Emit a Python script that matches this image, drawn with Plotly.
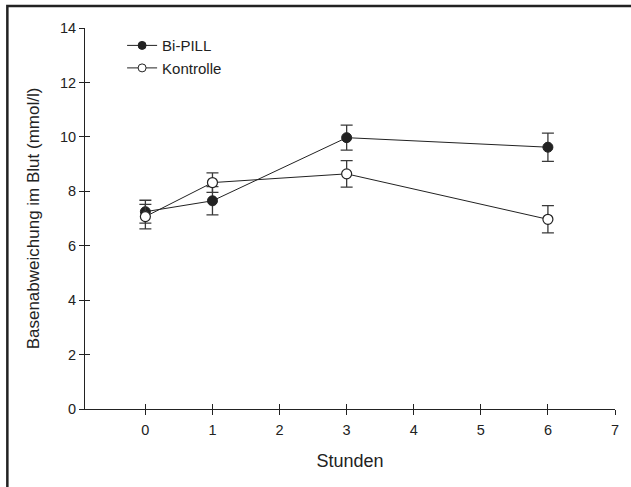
import plotly.graph_objects as go

hours = [0, 1, 3, 6]
bipill = [7.25, 7.65, 9.97, 9.62]
bipill_err = [0.42, 0.52, 0.46, 0.52]
kontrolle = [7.07, 8.32, 8.64, 6.97]
kontrolle_err = [0.45, 0.36, 0.49, 0.5]
x_ticks = [0, 1, 2, 3, 4, 5, 6, 7]
y_ticks = [0, 2, 4, 6, 8, 10, 12, 14]

FONT = "Liberation Sans, Arial, sans-serif"
INK = "#222222"

fig = go.Figure()
fig.add_trace(go.Scatter(
    x=hours, y=bipill, name="Bi-PILL", mode="lines+markers", showlegend=False,
    line=dict(color=INK, width=1),
    marker=dict(symbol="circle", size=10, color=INK, line=dict(color=INK, width=1)),
    error_y=dict(type="data", array=bipill_err, visible=True, color="#3a3a3a", thickness=1.3, width=6),
))
fig.add_trace(go.Scatter(
    x=hours, y=kontrolle, name="Kontrolle", mode="lines+markers", showlegend=False,
    line=dict(color=INK, width=1),
    marker=dict(symbol="circle", size=10, color="white", line=dict(color=INK, width=1.2)),
    error_y=dict(type="data", array=kontrolle_err, visible=True, color="#3a3a3a", thickness=1.3, width=6),
))
# legend entries (smaller markers, as in the reference legend)
fig.add_trace(go.Scatter(
    x=[None], y=[None], name="Bi-PILL", mode="lines+markers",
    line=dict(color=INK, width=1),
    marker=dict(symbol="circle", size=8, color=INK, line=dict(color=INK, width=1)),
))
fig.add_trace(go.Scatter(
    x=[None], y=[None], name="Kontrolle", mode="lines+markers",
    line=dict(color=INK, width=1),
    marker=dict(symbol="circle", size=8, color="white", line=dict(color=INK, width=1)),
))

axis_common = dict(showgrid=False, zeroline=False, showline=True, linecolor=INK, linewidth=1,
                   tickcolor=INK, ticklen=5, tickwidth=1,
                   tickfont=dict(family=FONT, size=14.5, color=INK))

fig.update_layout(
    width=631, height=487,
    margin=dict(l=85, r=12, t=28, b=78),
    paper_bgcolor="white", plot_bgcolor="white",
    font=dict(family=FONT, size=14, color=INK),
    showlegend=True,
    legend=dict(x=0.07, y=0.997, xanchor="left", yanchor="top",
                bgcolor="rgba(0,0,0,0)", font=dict(family=FONT, size=15, color=INK),
                itemwidth=30, tracegroupgap=0),
    xaxis=dict(range=[-0.9, 7], tickvals=x_ticks, ticks="outside", ticklabelstandoff=3,
               title=dict(text="Stunden", font=dict(family=FONT, size=18, color=INK), standoff=16),
               **axis_common),
    yaxis=dict(range=[0, 14], tickvals=y_ticks, ticks="outside",
               title=dict(text="Basenabweichung im Blut (mmol/l)", font=dict(family=FONT, size=17, color=INK), standoff=16),
               **axis_common),
    xaxis2=dict(overlaying="x", matches="x", range=[-0.9, 7], tickvals=x_ticks, ticks="inside",
                showticklabels=False, showgrid=False, zeroline=False, showline=False,
                tickcolor=INK, ticklen=5, tickwidth=1, side="bottom", anchor="y"),
    yaxis2=dict(overlaying="y", matches="y", range=[0, 14], tickvals=y_ticks, ticks="inside",
                showticklabels=False, showgrid=False, zeroline=False, showline=False,
                tickcolor=INK, ticklen=5, tickwidth=1, side="left", anchor="x"),
)

# invisible trace to activate overlay axes
fig.add_trace(go.Scatter(x=[None], y=[None], xaxis="x2", yaxis="y2", showlegend=False, hoverinfo="skip"))

# outer frame (top and left edges visible; right/bottom run off the canvas)
fig.add_shape(type="rect", xref="paper", yref="paper",
              x0=-0.1465, x1=1.2, y0=-0.4, y1=1.058,
              line=dict(color=INK, width=2.5), fillcolor="rgba(0,0,0,0)", layer="above")

fig.write_html("out.html", config={"displayModeBar": False},
               post_script="document.body.style.margin='0';document.body.style.padding='0';")
